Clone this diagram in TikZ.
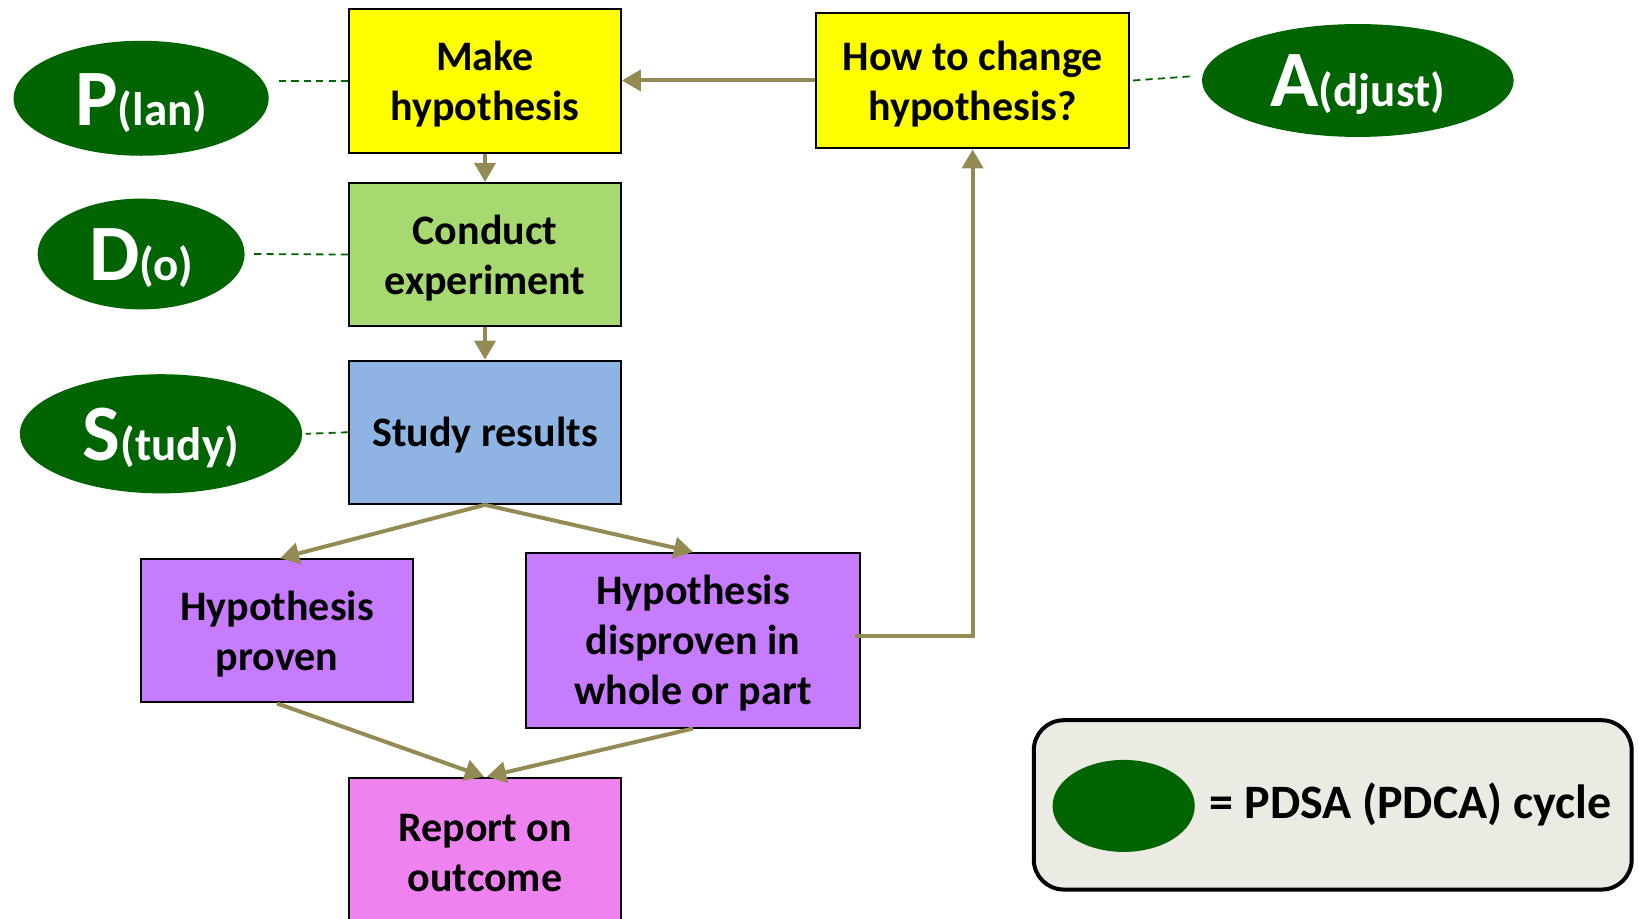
\documentclass[tikz,border=0pt]{standalone}
\usepackage{fontspec}
\setmainfont{Carlito}
\usetikzlibrary{shapes.geometric,arrows.meta,calc}
\newdimen\pxu
\pxu=0.52265pt
\definecolor{boxyellow}{HTML}{FFFF00}
\definecolor{boxgreen}{HTML}{A8D870}
\definecolor{boxblue}{HTML}{8EB4E3}
\definecolor{boxpurple}{HTML}{C77BFF}
\definecolor{boxviolet}{HTML}{EE82EE}
\definecolor{cyclegreen}{HTML}{006400}
\definecolor{flowline}{HTML}{948A54}
\definecolor{legendfill}{HTML}{EBEAE3}
% stage letter followed by the rest of the word, set a little low
\newcommand{\cyclelabel}[2]{\raisebox{-2.2pt}[\height][\depth]{{\fontsize{40}{44}\selectfont #1}{\fontsize{23.5}{27}\selectfont(#2)}}}
% centred lines of a step, set a little low
\newcommand{\steptext}[1]{\raisebox{-2.3pt}[\height][\depth]{\begin{tabular}{@{}c@{}}#1\end{tabular}}}
\tikzset{
  stepbox/.style={draw=black, line width=1pt, minimum width=260*\pxu, minimum height=137*\pxu,
    inner sep=0pt, font=\fontsize{21}{25}\selectfont\bfseries},
  cycle/.style={ellipse, fill=cyclegreen, text=white, inner sep=0pt, font=\bfseries},
  flow/.style={draw=flowline, line width=2pt, -{Triangle[length=9.5pt,width=10.5pt]}},
  cyclelink/.style={draw=cyclegreen, line width=0.9pt, dash pattern=on 3.6pt off 2.6pt},
}
\begin{document}
\begin{tikzpicture}[x=0.52265pt, y=-0.52265pt]
\useasboundingbox (0,0) rectangle (1568,879);

% process steps
\node[stepbox, fill=boxyellow] (mk) at (464,77.5) {\steptext{Make\\hypothesis}};
\node[stepbox, fill=boxgreen] (cd) at (464,243.5) {\steptext{Conduct\\experiment}};
\node[stepbox, fill=boxblue] (sr) at (464,413.5) {\steptext{Study results}};
\node[stepbox, fill=boxyellow, minimum width=299*\pxu, minimum height=130*\pxu] (hc) at (930.5,77) {\steptext{How to change\\hypothesis?}};
\node[stepbox, fill=boxpurple] (hp) at (265,603.5) {\steptext{Hypothesis\\proven}};
\node[stepbox, fill=boxpurple, minimum width=320*\pxu, minimum height=167*\pxu] (hd) at (663,612.5) {\steptext{Hypothesis\\disproven in\\whole or part}};
\node[stepbox, fill=boxviolet, anchor=north] (ro) at (464,743) {};
\node[font=\fontsize{21}{25}\selectfont\bfseries, inner sep=0pt] (rotext) at (464,815) {\steptext{Report on\\outcome}};

% PDSA stages
\node[cycle, minimum width=244*\pxu, minimum height=110*\pxu] (P) at (135,94) {\cyclelabel{P}{lan}};
\node[cycle, minimum width=198*\pxu, minimum height=106*\pxu] (D) at (135,243) {\cyclelabel{D}{o}};
\node[cycle, minimum width=270*\pxu, minimum height=114*\pxu] (S) at (154,415) {\cyclelabel{S}{tudy}};
\node[cycle, minimum width=298*\pxu, minimum height=108*\pxu] (A) at (1299,77) {\cyclelabel{A}{djust}};

% links between stages and steps
\draw[cyclelink] (mk.west) -- ++(-66,0);
\draw[cyclelink] (cd.west) -- ($(D.east)+(8,0)$);
\draw[cyclelink] (sr.west) -- ($(S.east)+(3,0)$);
\draw[cyclelink] ($(hc.east)+(3,0)$) -- ($(A.west)+(-10,-4)$);

% flow
\draw[flow] (mk.south) -- (cd.north);
\draw[flow] (cd.south) -- (sr.north);
\draw[flow] (sr.south) -- ($(hp.north)+(3,0)$);
\draw[flow] (sr.south) -- (hd.north);
\draw[flow] (hp.south) -- ($(ro.north)+(-1,0)$);
\draw[flow] (hd.south) -- ($(ro.north)+(2,0)$);
\draw[flow] ($(hd.east)+(-6,-4)$) -| (hc.south);
\draw[flow] (hc.west) -- (hc.west -| mk.east);

% legend
\node[draw=black, line width=2pt, rounded corners=15pt, fill=legendfill,
  minimum width=572*\pxu, minimum height=162*\pxu] (legend) at (1275,770) {};
\node[ellipse, fill=cyclegreen, minimum width=136*\pxu, minimum height=88*\pxu, inner sep=0pt] (legdot) at (1075,771) {};
\node[anchor=west, inner sep=0pt, font=\fontsize{24}{28}\selectfont\bfseries] (legtext) at (1157,770) {= PDSA (PDCA) cycle};
\end{tikzpicture}
\end{document}
